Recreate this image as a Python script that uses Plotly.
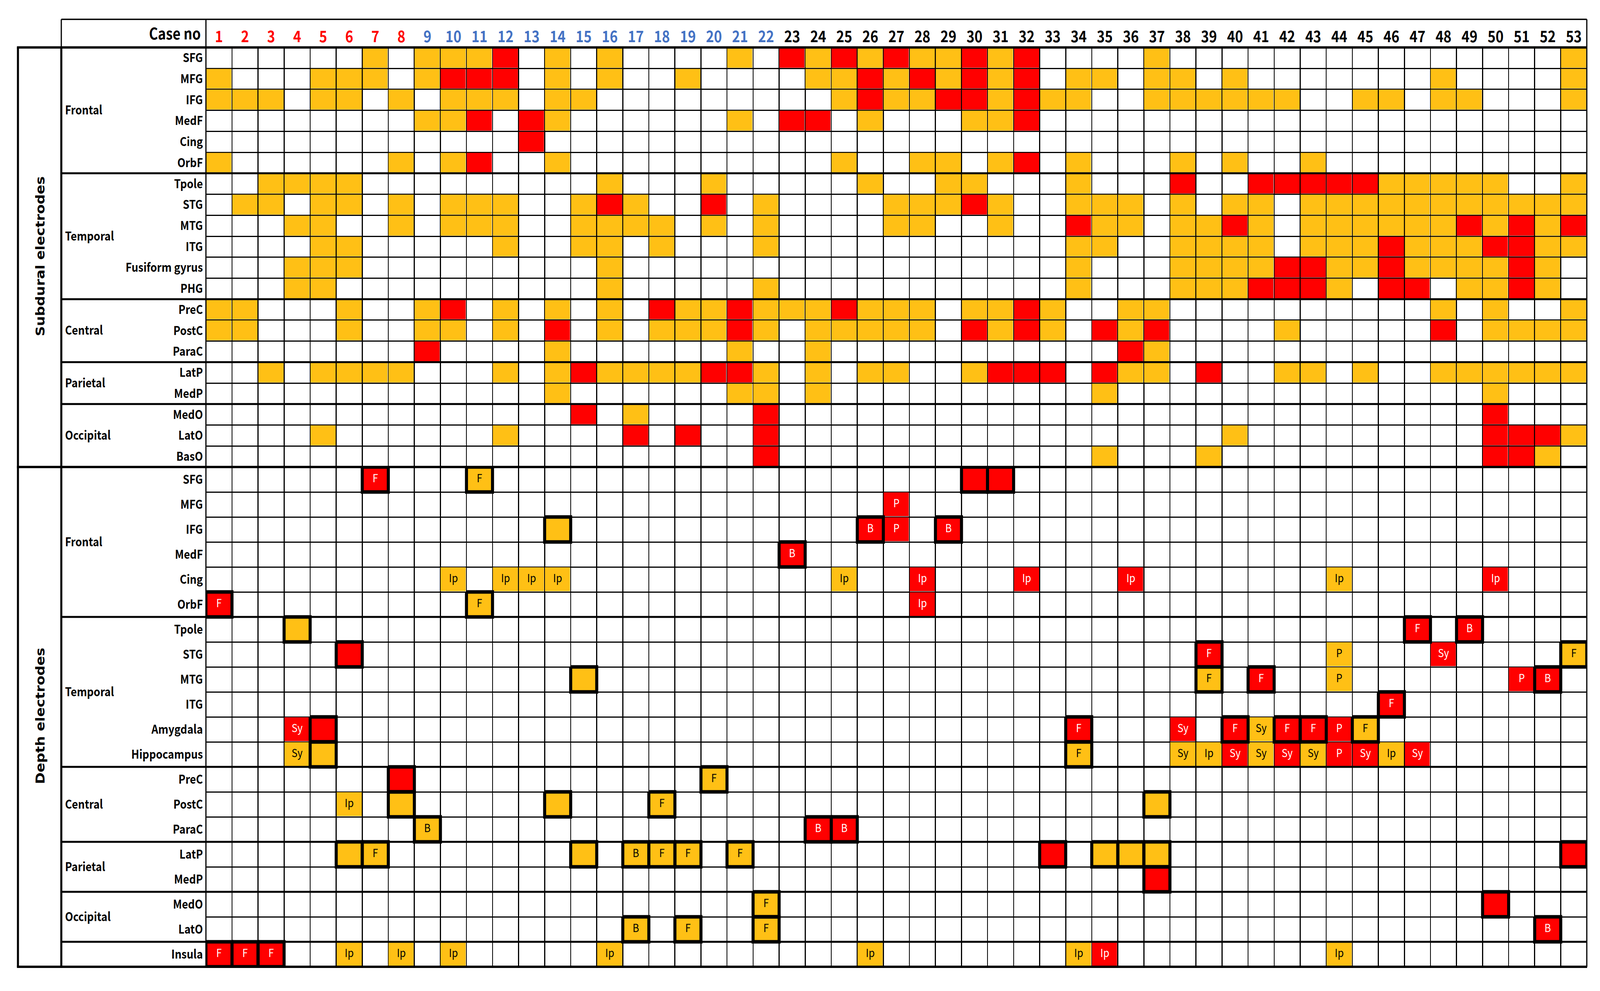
import plotly.graph_objects as go

W, H = 4724, 2538
ORANGE, RED = "#FFC015", "#FF0000"
BLUE = "#4472C4"

cases = list(range(1, 54))
case_colors = [RED] * 8 + [BLUE] * 14 + ["#000000"] * 31

sub_rows = ["SFG", "MFG", "IFG", "MedF", "Cing", "OrbF", "Tpole", "STG", "MTG", "ITG",
            "Fusiform gyrus", "PHG", "PreC", "PostC", "ParaC", "LatP", "MedP", "MedO", "LatO", "BasO"]
sub_orange = [
    [7, 9, 10, 11, 14, 16, 21, 24, 26, 28, 29, 31, 37, 53],
    [1, 5, 6, 7, 9, 14, 16, 19, 24, 25, 27, 29, 31, 34, 35, 37, 38, 40, 48, 53],
    [1, 2, 3, 5, 6, 8, 10, 11, 12, 14, 15, 25, 27, 28, 31, 33, 34, 37, 38, 39, 40, 41, 42, 45, 46, 48, 49, 53],
    [9, 10, 14, 21, 26, 30, 31],
    [],
    [1, 8, 10, 14, 25, 28, 29, 31, 34, 38, 40, 43],
    [3, 4, 5, 6, 16, 20, 26, 29, 30, 34, 46, 47, 48, 49, 50, 53],
    [2, 3, 5, 6, 8, 10, 11, 12, 15, 17, 22, 27, 28, 29, 31, 34, 35, 36, 38, 40, 41, 43, 44, 45, 46, 47, 48, 49, 50, 51, 52, 53],
    [4, 5, 8, 10, 11, 12, 15, 16, 17, 18, 20, 22, 27, 28, 31, 35, 36, 38, 39, 41, 43, 44, 45, 46, 47, 48, 50, 52],
    [5, 6, 12, 15, 16, 18, 22, 34, 35, 38, 39, 40, 41, 43, 44, 45, 47, 48, 49, 52, 53],
    [4, 5, 6, 16, 34, 38, 39, 40, 41, 44, 45, 47, 48, 49, 50, 52],
    [4, 5, 16, 22, 34, 38, 39, 40, 44, 49, 50, 52],
    [1, 2, 6, 9, 12, 14, 16, 19, 20, 22, 23, 24, 26, 27, 28, 30, 31, 33, 36, 37, 48, 50, 53],
    [1, 2, 6, 9, 10, 12, 16, 18, 19, 20, 22, 24, 25, 26, 27, 28, 31, 33, 36, 42, 50, 51, 52, 53],
    [14, 21, 24, 37],
    [3, 5, 6, 7, 8, 12, 14, 16, 17, 18, 19, 22, 24, 26, 27, 30, 36, 37, 42, 43, 45, 48, 49, 50, 51, 52, 53],
    [14, 21, 22, 24, 35, 50],
    [17],
    [5, 12, 40, 53],
    [35, 39, 52],
]
sub_red = [
    [12, 23, 25, 27, 30, 32],
    [10, 11, 12, 26, 28, 30, 32],
    [26, 29, 30, 32],
    [11, 13, 23, 24, 32],
    [13],
    [11, 32],
    [38, 41, 42, 43, 44, 45],
    [16, 20, 30],
    [34, 40, 49, 51, 53],
    [46, 50, 51],
    [42, 43, 46, 51],
    [41, 42, 43, 46, 47, 51],
    [10, 18, 21, 25, 32],
    [14, 21, 30, 32, 35, 37, 48],
    [9, 36],
    [15, 20, 21, 31, 32, 33, 35, 39],
    [],
    [15, 22, 50],
    [17, 19, 22, 50, 51, 52],
    [22, 50, 51],
]

dep_rows = ["SFG", "MFG", "IFG", "MedF", "Cing", "OrbF", "Tpole", "STG", "MTG", "ITG", "Amygdala", "Hippocampus",
            "PreC", "PostC", "ParaC", "LatP", "MedP", "MedO", "LatO", "Insula"]
# one entry per filled cell: row name index, case, level (1 orange, 2 red), letter, heavy frame
dep_row_idx = [0, 0, 0, 0, 1, 2, 2, 2, 2, 3,
               4, 4, 4, 4, 4, 4, 4, 4, 4, 4, 5, 5, 5,
               6, 6, 6, 7, 7, 7, 7, 7, 8, 8, 8, 8, 8, 8, 9,
               10, 10, 10, 10, 10, 10, 10, 10, 10, 10,
               11, 11, 11, 11, 11, 11, 11, 11, 11, 11, 11, 11, 11,
               12, 12, 13, 13, 13, 13, 13, 14, 14, 14,
               15, 15, 15, 15, 15, 15, 15, 15, 15, 15, 15, 15,
               16, 17, 17, 18, 18, 18, 18,
               19, 19, 19, 19, 19, 19, 19, 19, 19, 19, 19]
dep_case = [7, 11, 30, 31, 27, 14, 26, 27, 29, 23,
            10, 12, 13, 14, 25, 28, 32, 36, 44, 50, 1, 11, 28,
            4, 47, 49, 6, 39, 44, 48, 53, 15, 39, 41, 44, 51, 52, 46,
            4, 5, 34, 38, 40, 41, 42, 43, 44, 45,
            4, 5, 34, 38, 39, 40, 41, 42, 43, 44, 45, 46, 47,
            8, 20, 6, 8, 14, 18, 37, 9, 24, 25,
            6, 7, 15, 17, 18, 19, 21, 33, 35, 36, 37, 53,
            37, 22, 50, 17, 19, 22, 52,
            1, 2, 3, 6, 8, 10, 16, 26, 34, 35, 44]
dep_level = [2, 1, 2, 2, 2, 1, 2, 2, 2, 2,
             1, 1, 1, 1, 1, 2, 2, 2, 1, 2, 2, 1, 2,
             1, 2, 2, 2, 2, 1, 2, 1, 1, 1, 2, 1, 2, 2, 2,
             2, 2, 2, 2, 2, 1, 2, 2, 2, 1,
             1, 1, 1, 1, 1, 2, 1, 2, 1, 2, 2, 1, 2,
             2, 1, 1, 1, 1, 1, 1, 1, 2, 2,
             1, 1, 1, 1, 1, 1, 1, 2, 1, 1, 1, 2,
             2, 1, 2, 1, 1, 1, 2,
             2, 2, 2, 1, 1, 1, 1, 1, 1, 2, 1]
dep_label = ["F", "F", "", "", "P", "", "B", "P", "B", "B",
             "Ip", "Ip", "Ip", "Ip", "Ip", "Ip", "Ip", "Ip", "Ip", "Ip", "F", "F", "Ip",
             "", "F", "B", "", "F", "P", "Sy", "F", "", "F", "F", "P", "P", "B", "F",
             "Sy", "", "F", "Sy", "F", "Sy", "F", "F", "P", "F",
             "Sy", "", "F", "Sy", "Ip", "Sy", "Sy", "Sy", "Sy", "P", "Sy", "Ip", "Sy",
             "", "F", "Ip", "", "", "F", "", "B", "B", "B",
             "", "F", "", "B", "F", "F", "F", "", "", "", "", "",
             "", "F", "", "B", "F", "F", "B",
             "F", "F", "F", "Ip", "Ip", "Ip", "Ip", "Ip", "Ip", "Ip", "Ip"]
dep_heavy = [1, 1, 1, 1, 0, 1, 1, 0, 1, 1,
             0, 0, 0, 0, 0, 0, 0, 0, 0, 0, 1, 1, 0,
             1, 1, 1, 1, 1, 0, 0, 1, 1, 1, 1, 0, 0, 1, 1,
             0, 1, 1, 0, 1, 0, 1, 1, 0, 1,
             0, 1, 1, 0, 0, 0, 0, 0, 0, 0, 0, 0, 0,
             1, 1, 0, 1, 1, 1, 1, 1, 1, 1,
             1, 1, 1, 1, 1, 1, 1, 1, 1, 1, 1, 1,
             1, 1, 1, 1, 1, 1, 1,
             1, 1, 1, 0, 0, 0, 0, 0, 0, 0, 0]

sub_groups = [("Frontal", 0, 5), ("Temporal", 6, 11), ("Central", 12, 14), ("Parietal", 15, 16), ("Occipital", 17, 19)]
dep_groups = [("Frontal", 0, 5), ("Temporal", 6, 11), ("Central", 12, 14), ("Parietal", 15, 16), ("Occipital", 17, 18)]

# page geometry in pixels
X_OUT, X_GRP, X_TAB, X_END = 53, 181, 608, 4685
Y_TOP, Y_HEAD, Y_MID, Y_BOT = 49.5, 121.5, 1196, 2476
LABEL_FONT = "Noto Sans CJK KR"
TITLE_FONT = "DejaVu Sans"
px = lambda v: v / W
py = lambda v: 1 - v / H


def matrix(orange, red):
    z = [[None] * len(cases) for _ in orange]
    for r, row in enumerate(orange):
        for c in row:
            z[r][c - 1] = 1
    for r, row in enumerate(red):
        for c in row:
            z[r][c - 1] = 2
    return z


sub_z = matrix(sub_orange, sub_red)
dep_z = [[None] * len(cases) for _ in dep_rows]
for r, c, lv in zip(dep_row_idx, dep_case, dep_level):
    dep_z[r][c - 1] = lv

fig = go.Figure()
scale = [[0, ORANGE], [1, RED]]
for z, rows, ya in ((sub_z, sub_rows, "y"), (dep_z, dep_rows, "y2")):
    fig.add_trace(go.Heatmap(z=z, x=cases, y=list(range(len(rows))), yaxis=ya, xaxis="x", zmin=1, zmax=2,
                             colorscale=scale, showscale=False, xgap=3, ygap=3, hoverongaps=False))

# heavy cell frames
hx, hy = [], []
for r, c, h in zip(dep_row_idx, dep_case, dep_heavy):
    if h:
        hx += [c - .5, c + .5, c + .5, c - .5, c - .5, None]
        hy += [r - .5, r - .5, r + .5, r + .5, r - .5, None]
fig.add_trace(go.Scatter(x=hx, y=hy, yaxis="y2", mode="lines", cliponaxis=False, hoverinfo="skip",
                         line=dict(color="black", width=9)))

# letters in depth cells
for lv, col in ((1, "black"), (2, "white")):
    idx = [i for i, l in enumerate(dep_label) if l and dep_level[i] == lv]
    fig.add_trace(go.Scatter(x=[dep_case[i] for i in idx], y=[dep_row_idx[i] for i in idx], yaxis="y2",
                             mode="text", text=[dep_label[i] for i in idx], textposition="middle center",
                             cliponaxis=False, textfont=dict(family=LABEL_FONT, size=29, color=col)))


def yaxis(rows, top, bottom, anchor="x"):
    return dict(domain=[py(bottom), py(top)], range=[len(rows) - .5, -.5], anchor=anchor, side="left",
                tickmode="array", tickvals=list(range(len(rows))), ticktext=rows, ticks="", ticklen=0,
                ticklabelstandoff=8, showgrid=False, zeroline=False, showline=False,
                tickfont=dict(family=LABEL_FONT, size=31, color="black", weight="bold"),
                minor=dict(tickmode="linear", tick0=.5, dtick=1, showgrid=True, gridcolor="black", gridwidth=2.6, ticklen=0))


fig.update_layout(
    width=W, height=H, margin=dict(l=0, r=0, t=0, b=0), autosize=False, showlegend=False,
    paper_bgcolor="white", plot_bgcolor="white",
    xaxis=dict(domain=[px(X_TAB), px(X_END)], range=[.5, 53.5], anchor="y", side="top", tickmode="array",
               tickvals=cases,
               ticktext=[f'<span style="color:{c}">{n}</span>' for n, c in zip(cases, case_colors)],
               ticks="", ticklen=0, tickangle=0, showgrid=False, zeroline=False, showline=False, ticklabelstandoff=4,
               tickfont=dict(family=LABEL_FONT, size=40, color="black", weight="bold"),
               minor=dict(tickmode="linear", tick0=.5, dtick=1, showgrid=True, gridcolor="black", gridwidth=3, ticklen=0)),
    yaxis=yaxis(sub_rows, Y_HEAD, Y_MID),
    yaxis2=yaxis(dep_rows, Y_MID, Y_BOT),
)

ann = [dict(text="<b>Case no</b>", x=px(595), y=py(84), xref="paper", yref="paper", xanchor="right", yanchor="middle",
            showarrow=False, font=dict(family=LABEL_FONT, size=40, color="black")),
       dict(text="<b>Subdural electrodes</b>", x=px(118), y=py(657), xref="paper", yref="paper", textangle=-90,
            xanchor="center", yanchor="middle", showarrow=False, font=dict(family=TITLE_FONT, size=36, color="black")),
       dict(text="<b>Depth electrodes</b>", x=px(118), y=py(1834), xref="paper", yref="paper", textangle=-90,
            xanchor="center", yanchor="middle", showarrow=False, font=dict(family=TITLE_FONT, size=36, color="black"))]
for groups, ya in ((sub_groups, "y"), (dep_groups, "y2")):
    for name, a, b in groups:
        ann.append(dict(text=f"<b>{name}</b>", x=px(190), y=(a + b) / 2, xref="paper", yref=ya, xanchor="left",
                        yanchor="middle", yshift=3, showarrow=False, font=dict(family=LABEL_FONT, size=31, color="black")))
fig.update_layout(annotations=ann)


def rule(x0, y0, x1, y1, w):
    return dict(type="line", xref="paper", yref="paper", x0=px(x0), y0=py(y0), x1=px(x1), y1=py(y1),
                line=dict(color="black", width=w), layer="above")


shapes = [rule(X_GRP, Y_TOP, X_END, Y_TOP, 3.5), rule(X_GRP, Y_TOP, X_GRP, Y_HEAD, 3.5),
          rule(X_TAB, Y_TOP, X_TAB, Y_HEAD, 3.5), rule(X_END, Y_TOP, X_END, Y_BOT, 3.5),
          rule(X_TAB, Y_HEAD, X_TAB, Y_BOT, 3.5),
          rule(X_OUT - 3, Y_HEAD, X_END, Y_HEAD, 6), rule(X_OUT - 3, Y_MID, X_END, Y_MID, 6),
          rule(X_OUT - 3, Y_BOT, X_END + 1, Y_BOT, 6), rule(X_OUT, Y_HEAD, X_OUT, Y_BOT, 6),
          rule(X_GRP, Y_HEAD, X_GRP, Y_BOT, 6)]
sub_h = (Y_MID - Y_HEAD) / 20
dep_h = (Y_BOT - Y_MID) / 20
for k in (6, 12, 15, 17):
    shapes.append(rule(X_GRP, Y_HEAD + k * sub_h, X_END, Y_HEAD + k * sub_h, 5))
for k in (6, 12, 15, 17, 19):
    shapes.append(rule(X_GRP, Y_MID + k * dep_h, X_END, Y_MID + k * dep_h, 5))
fig.update_layout(shapes=shapes)

# the browser may offer less room than the page asks for: fit the whole figure to the window
fit = f"""
document.documentElement.style.overflow='hidden';
document.body.style.margin='0';
document.body.style.overflow='hidden';
var gd=document.querySelector('.plotly-graph-div');
gd.style.transformOrigin='0 0';
gd.style.transform='scale('+(window.innerWidth/{W})+','+(window.innerHeight/{H})+')';
"""
fig.write_html("out.html", post_script=fit, config={"displayModeBar": False})
